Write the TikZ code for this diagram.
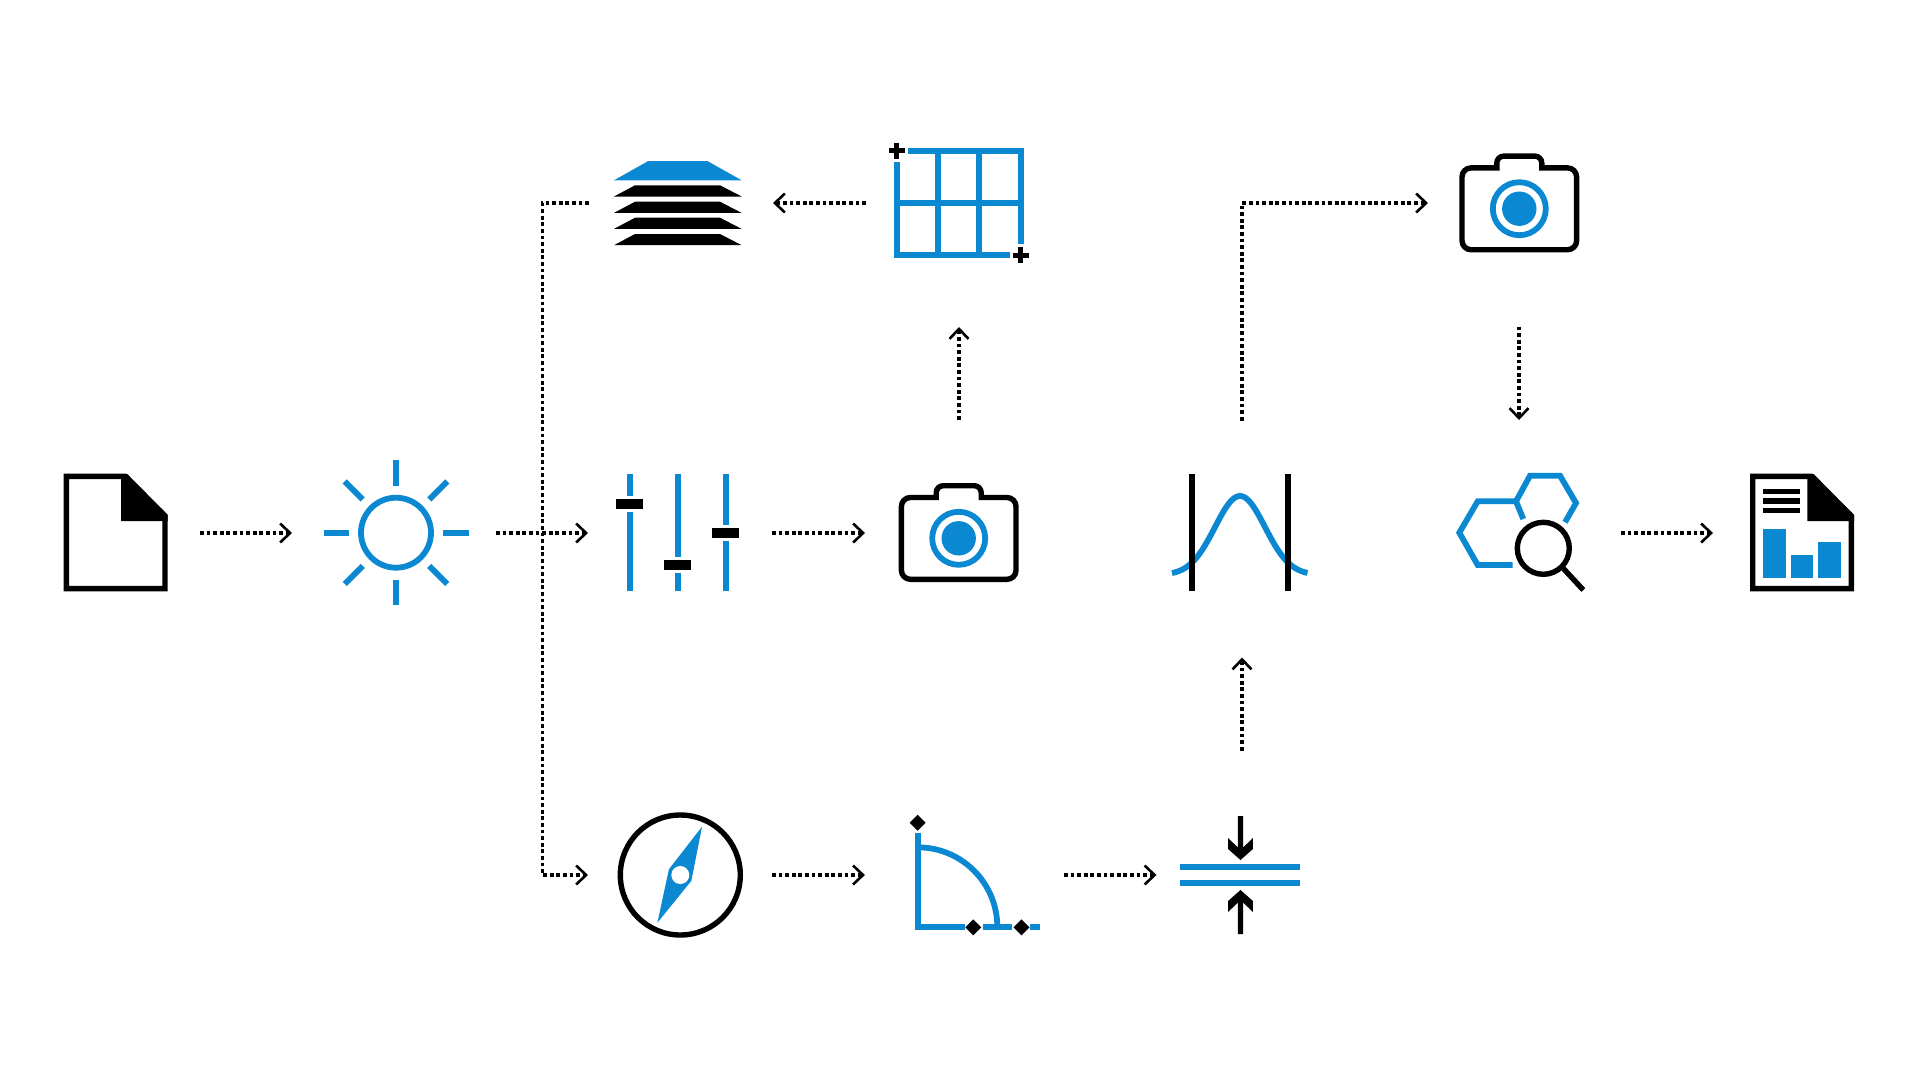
\documentclass[tikz,border=0pt]{standalone}
\usetikzlibrary{arrows.meta}
\definecolor{iconblue}{HTML}{0A88D2}
\tikzset{
	iconbox/.style={inner sep=0pt,outer sep=0pt},
	flow/.style={line width=3.2pt,dash pattern=on 3.8pt off 2.8pt,->},
	blueline/.style={iconblue,line width=5.8pt},
	blackline/.style={black,line width=5.4pt},
	docicon/.pic={
		\draw[blackline] (2.4,2.4)--(61,2.4)--(101,42)--(101,114.6)--(2.4,114.6)--cycle;
		\fill (57,0)--(63.3,0)--(103.7,41)--(103.7,47)--(57,47)--cycle;
	},
	cameraicon/.pic={
		\draw[blackline] (-22.5,-40.8)[rounded corners=7pt]--(-22.5,-52.6)--(22.5,-52.6)[sharp corners]--(22.5,-40.8)[rounded corners=9pt]--(57.3,-40.8)--(57.3,41)--(-57.3,41)--(-57.3,-40.8)[sharp corners]--cycle;
		\draw[blueline] (0,0) circle (26.5);
		\fill[iconblue] (0,0) circle (17.2);
	},
}
\begin{document}
\begin{tikzpicture}[x=1pt,y=-1pt,>={Straight Barb[length=10pt,width=19pt,line width=2.6pt]},line join=miter]
	\useasboundingbox (0,0) rectangle (1920,1080);
	\node[iconbox,minimum width=168pt,minimum height=117pt] (doc) at (116,533) {};
	\node[iconbox,minimum width=204pt,minimum height=146pt] (sun) at (394,533) {};
	\node[iconbox,minimum width=184pt,minimum height=117pt] (sliders) at (680,533) {};
	\node[iconbox,minimum width=188pt,minimum height=226pt] (camera) at (959,533) {};
	\node[iconbox,minimum width=186pt,minimum height=248pt] (grid) at (959,203) {};
	\node[iconbox,minimum width=184pt,minimum height=84pt] (stack) at (681,203) {};
	\node[iconbox,minimum width=184pt,minimum height=126pt] (compass) at (680,875) {};
	\node[iconbox,minimum width=199pt,minimum height=110pt] (corner) at (964.4,875) {};
	\node[iconbox,minimum width=171pt,minimum height=249pt] (squeeze) at (1242,875) {};
	\node[iconbox,minimum width=140pt,minimum height=237pt] (curve) at (1242,539) {};
	\node[iconbox,minimum width=182pt,minimum height=247pt] (cameratwo) at (1519,203) {};
	\node[iconbox,minimum width=204pt,minimum height=226pt] (hexes) at (1519,533) {};
	\node[iconbox,minimum width=178pt,minimum height=117pt] (report) at (1802,533) {};
	\coordinate (bus) at (542.4,533);

	\draw pic at (64,474) {docicon};
	\draw[blueline] (396,532.7) circle (35);
	\foreach \a in {0,45,...,315}
		\draw[blueline] (396,532.7) ++(\a:47) -- ++(\a:25.5);

	\fill[iconblue] (648.3,161)--(707.3,161)--(741.7,180.3)--(614,180.3)--cycle;
	\foreach \y in {185.3,201.7,217.7,234}
		\fill (635,\y)--(720,\y)--(741.7,\y+11.2)--(614,\y+11.2)--cycle;

	\draw[blueline] (908.3,150.7)--(1021,150.7)--(1021,244);
	\draw[blueline] (1009.7,255.3)--(897,255.3)--(897,162.3);
	\draw[blueline] (938.3,150.7)--(938.3,255.3);
	\draw[blueline] (979.3,150.7)--(979.3,255.3);
	\draw[blueline] (897,203)--(1021,203);
	\foreach \x/\y in {896.7/150.7,1020.7/255.3}
		\draw[blackline] (\x-8,\y)--(\x+8,\y) (\x,\y-8)--(\x,\y+8);

	\draw[blueline] (629.7,474.3)--(629.7,495.7) (629.7,511.7)--(629.7,591);
	\draw[blueline] (677.7,474.3)--(677.7,556.7) (677.7,572.7)--(677.7,591);
	\draw[blueline] (725.7,474.3)--(725.7,524.7) (725.7,540.7)--(725.7,591);
	\foreach \x/\y in {629.7/503.7,677.7/564.7,725.7/532.7}
		\fill (\x-13.7,\y-5)rectangle (\x+13.7,\y+5);

	\draw pic at (958.7,538.3) {cameraicon};
	\draw pic at (1519.3,208.7) {cameraicon};

	\def\f(#1){575-79*exp(-((#1)-1240)^2/1250)}
	\draw[blueline,smooth,samples=120] plot[domain=1172:1307.5](\x,{\f(\x)});
	\draw[blackline] (1192,474.3)--(1192,590.7);
	\draw[blackline] (1288,474.3)--(1288,590.7);

	\draw[blueline] (1512.7,565)--(1477.7,565)--(1459.3,532.7)--(1477.7,501.3)--(1516,501.3)--(1523.3,519);
	\draw[blueline] (1516,501.3)--(1530,475.7)--(1560,475.7)--(1576,503)--(1565,522.3);
	\draw[blackline] (1543.3,548.3) circle (26);
	\draw[blackline] (1561.7,566.7)--(1583.3,590);

	\draw pic at (1750.3,474) {docicon};
	\draw[blackline] (1763,491.3)--(1800,491.3) (1763,501)--(1800,501) (1763,510.7)--(1800,510.7);
	\fill[iconblue] (1763,529.3)rectangle (1786,578);
	\fill[iconblue] (1790.7,555)rectangle (1813.3,578);
	\fill[iconblue] (1818.3,542)rectangle (1841,578);

	\draw[blackline] (680.3,875) circle (60);
	\fill[iconblue] (702,826.7)--(691.4,880.7)--(657.4,922.7)--(668.9,869.3)--cycle;
	\fill[white] (680.3,875) circle (9);

	\draw[blueline] (917.7,832.7)--(917.7,927.3)--(965,927.3);
	\draw[blueline] (983.4,927.3)--(1012,927.3) (1030,927.3)--(1039.8,927.3);
	\draw[blueline] (917.7,847.3) arc[start angle=-90,end angle=0,radius=79.6];
	\foreach \x/\y in {917.7/822.7,973.3/927.3,1021.5/927.3}
		\fill (\x-8,\y)--(\x,\y-8)--(\x+8,\y)--(\x,\y+8)--cycle;

	\draw[blueline] (1180.4,867)--(1300,867) (1180.4,883)--(1300,883);
	\foreach \s in {1,-1}
		\fill[shift={(1240.5,875)},yscale=\s] (0,-15)--(12.4,-26)--(12.4,-37)--(2.6,-27.5)--(2.6,-59)--(-2.6,-59)--(-2.6,-27.5)--(-12.4,-37)--(-12.4,-26)--cycle;

	\draw[flow] (doc.east)--(sun.west);
	\draw[flow] (sun.east)--(sliders.west);
	\draw[flow] (sliders.east)--(camera.west);
	\draw[flow] (camera.north)--(grid.south);
	\draw[flow] (grid.west)--(stack.east);
	\draw[flow] (stack.west)-|(bus)|-(compass.west);
	\draw[flow] (compass.east)--(corner.west);
	\draw[flow] (corner.east)--(squeeze.west);
	\draw[flow] (squeeze.north)--(curve.south);
	\draw[flow] (curve.north)|-(cameratwo.west);
	\draw[flow] (cameratwo.south)--(hexes.north);
	\draw[flow] (hexes.east)--(report.west);
\end{tikzpicture}
\end{document}
